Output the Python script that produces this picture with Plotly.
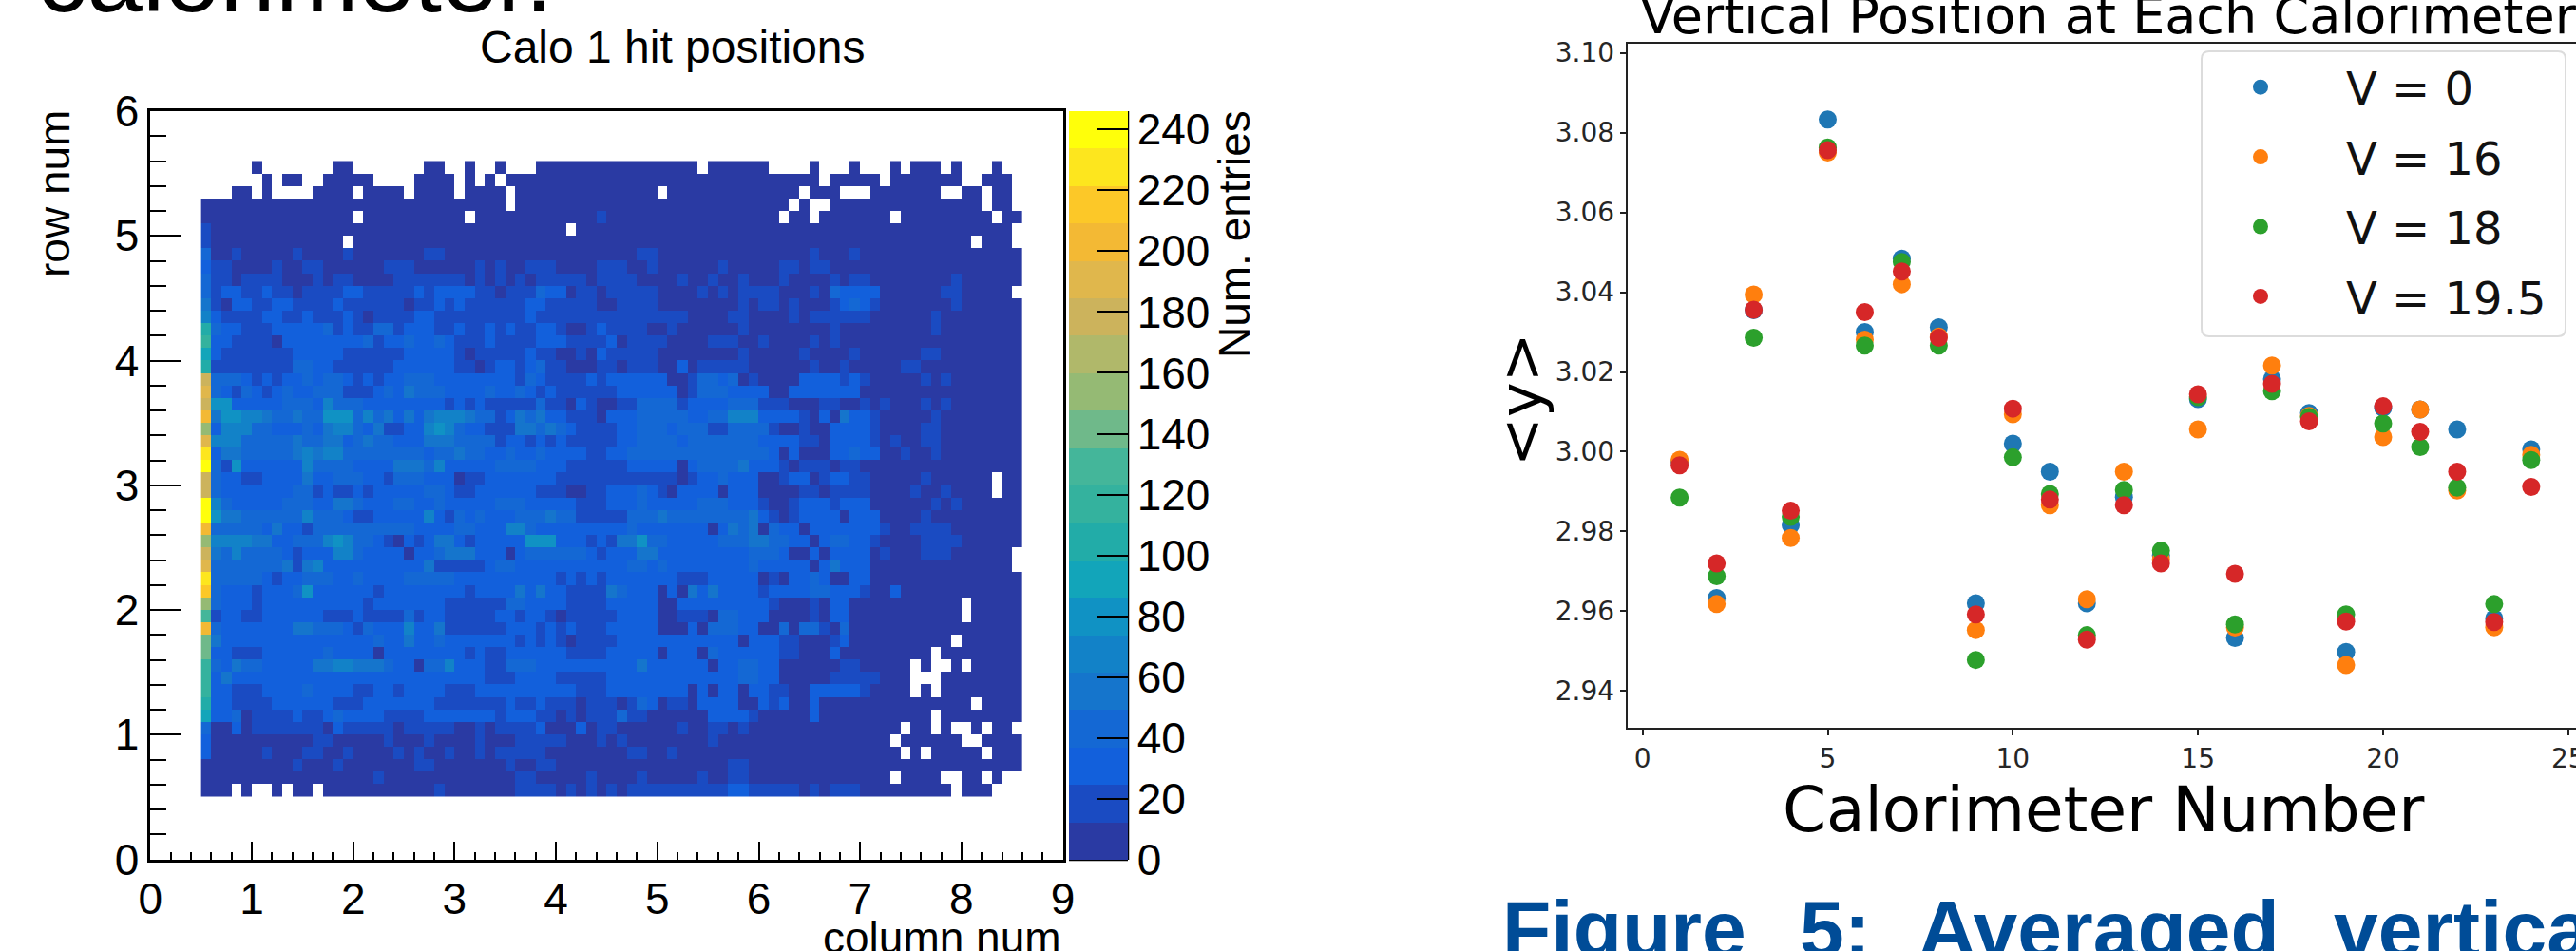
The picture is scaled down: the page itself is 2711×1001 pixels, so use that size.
import plotly.graph_objects as go

W, H = 2711, 1001

# ---------- Calo 1 hit map: bin edges and per-bin colour level (0-19 in base 20, '.' = empty bin) ----------
X_FIRST_EDGE = 0.5
Y_FIRST_EDGE = 0.5
BIN_WIDTH = 0.1
ENTRIES_MAX = 246
N_LEVELS = 20

# rows listed from the top (row 50) down to the bottom (row 0); 81 columns, in groups of ten
HEAT_ROWS = [
 ".....0.... ...00..... ..00..0..0 ...0000000 000000000. 000000.... 0...0...0. 000.0...0. .",
 "......0.00 ..00000... .0000.0.0. 0000000000 0000000000 0000000000 0.00000.00 00000..000 .",
 "...00.0... .0000.0000 .0000.0000 .000000000 00000.0000 000000000. 000...0000 000..00.00 .",
 "0000000000 0000000000 0000000000 .000000000 0000000000 00000000.0 ..00000000 0000000.00 .",
 "0000000000 00000.0000 000000.000 0000000001 0000000000 0000000.00 .0000000.0 00000000.0 0",
 "1000000000 0000000000 0000000000 000000.000 0000000000 0000000000 0000000000 0000000000 .",
 "1000000000 0000.00000 0000000000 0000000000 0000000000 0000000000 0000000000 000000.000 .",
 "3001000001 0000100000 0011000000 0000000000 0001100000 0000000000 1000100000 0000000000 0",
 "2110000100 1100000011 1000000101 0011100001 1100100000 0100000110 1100000000 0000000000 0",
 "3110111100 0101100001 1111110101 0101111101 1110000100 1001000100 0010110000 0000100000 0",
 "3122112110 1111221111 1212222110 1113220110 1111100001 0101111000 1032222000 0001100000 .",
 "4102211221 1112111111 0112121111 1122111110 0111100000 0001011010 0012321000 0000100000 0",
 "5211112211 2111210111 1221111111 1121111111 1111111100 0011000010 1111110000 0010000000 0",
 "8322111222 2231211331 2221121121 2112210012 1111001000 0001000000 0010000000 0010000000 0",
 "9221111022 2222223122 3223211121 1112221111 2011110000 1110010000 1010000000 0000000000 0",
 "7211111112 2222111111 2222210111 1121100102 1111100000 0001000001 0000100000 0110000000 0",
 "8111111113 3221111112 2222211012 2123110001 1011100201 1111000000 1001000001 1000000000 0",
 "e333212122 3233212122 3332222222 2132111121 2222220013 3230100002 2221210000 0101000000 0",
 "f321321232 2333111232 4333222232 2321211111 1222222013 3322220022 2222200000 0000000000 0",
 "e662222233 3253332222 2222121211 1113110210 0113333122 2233311100 0110010100 0101000000 0",
 "g466554334 3366635342 4245554331 2434221110 2223333322 3355522221 0204221000 0010000000 0",
 "c255533222 3245532411 2256532211 1443432111 1223332333 1133331001 0022221000 0110000000 0",
 "f555333334 3344234332 2244433331 2212121111 1223333233 3333322221 1022221010 0110000000 0",
 "i244333334 5455333333 3323343322 3223222211 2233333333 3333332020 0022322001 0010000000 0",
 "j316222222 5333322224 4435222223 3332221111 1122222023 3334222101 1101100000 0000000000 0",
 "e322112222 4223332213 3322201122 2222211111 1111111012 2322200122 0122110000 01000000.0 0",
 "e322222223 3121121222 2233211222 2221110011 2223210222 2022200001 1011110000 10010000.0 0",
 "j532222233 3224432223 3223222223 3322222111 2223222223 3322210012 2212220000 0010100000 0",
 "j644333333 5333211222 2252132322 2333433111 1133343333 3333421012 2220222000 0100000000 0",
 "g333332422 1333333333 3222233222 5532222222 2232222222 0243403220 2222222100 1111000000 0",
 "c555544223 3356533210 2124421222 2266622212 1446332222 2333443322 0233221000 0111100000 0",
 "e435333321 2225532222 0223444222 0233333321 2224422222 2222333200 2022220100 0111000000 .",
 "f333333341 4522222222 2241111123 3222222222 2233232222 2222322222 0242220000 0000000000 .",
 "i333332122 3332232222 3333322222 2222212121 2222222111 2222201022 3200220000 0000000000 0",
 "h322212223 6222222122 2222221222 2424221111 4322202042 4222212222 3322210020 0000000000 0",
 "c322212222 2222221222 2222111111 3322221111 2222200222 2222221000 1022000000 00000.0000 0",
 "a122112222 2211121111 3122111112 2122101111 1222200111 0332220000 1022000000 00000.0000 0",
 "g322222224 4333213222 5224111111 2221212111 2222200020 3332200303 3103000000 0000000000 0",
 "b422222222 2222222322 4223222222 2121210111 1222222222 2220222110 0012000000 0000.00000 0",
 "b221112222 2232222022 2222221211 2222221111 2222202220 3222222110 0020000000 00.0000000 0",
 "9324332222 2445544432 2033522211 3332222222 2224222222 0223322000 0001100000 .0..0.0000 0",
 "9242222222 2222222222 2222222211 1222211111 2222222222 2223322000 0011111000 ...0000000 0",
 "9221112222 3222211221 2222111222 2222222111 2222222202 0220221100 2222210000 .0.0000000 0",
 "8221111222 2221112222 2221111111 2112111011 1013201102 2220021200 2000000000 000000.000 0",
 "7223011112 1123222211 1122222221 2221101011 1311000000 2222100000 2000000000 00.0000000 0",
 "3002011111 1102111110 1111100101 1112000201 1000000100 1101000000 000000000. 00.0..0.00 .",
 "2000000000 0110000010 0010000100 0111110001 0100000000 1000000000 00000000.0 00000..000 0",
 "2000001000 1100100001 0100100101 1111000000 0011001000 0000000000 000000000. 0.00000.00 0",
 "0000000001 0001000000 0110000000 1001100000 0000000000 0011000000 0000000000 0000000000 0",
 "0000000000 0000000100 0000000000 0110000010 0001000001 0011000000 00000000.0 000..00.0. .",
 "000.0..0.0 0.00000000 0001000000 0111101010 1011111111 1122111110 1011100000 0000.000.. .",
]

BAND_COLORS = [
 "#2a3aa3", "#1a4bc2", "#1260dc", "#1468d4", "#1575cc", "#1282c8", "#1092c4",
 "#12a5ba", "#22aca8", "#34b29e", "#44b69a", "#6fb98a", "#95ba74", "#b0b86a",
 "#ccb35c", "#e0b74c", "#f3b934", "#fcc828", "#fde61e", "#ffff0a",
]
HEAT_TICKS = list(range(0, 10))
COLORBAR_TICKS = list(range(0, 241, 20))

# ---------- Vertical position at each calorimeter ----------
CALO = list(range(1, 25))
V_0 = [2.9975, 2.9633, 3.0355, 2.9816, 3.0833, 3.0300, 3.0484, 3.0312, 2.9620, 3.0020, 2.9950, 2.9620,
       2.9886, 2.9740, 3.0132, 2.9533, 3.0182, 3.0097, 2.9498, 3.0110, 3.0106, 3.0056, 2.9582, 3.0006]
V_16 = [2.9980, 2.9618, 3.0394, 2.9784, 3.0750, 3.0281, 3.0420, 3.0289, 2.9553, 3.0094, 2.9866, 2.9630,
        2.9950, 2.9730, 3.0056, 2.9559, 3.0216, 3.0090, 2.9465, 3.0037, 3.0106, 2.9903, 2.9560, 2.9992]
V_18 = [2.9885, 2.9688, 3.0286, 2.9837, 3.0763, 3.0266, 3.0476, 3.0266, 2.9478, 2.9986, 2.9894, 2.9540,
        2.9904, 2.9752, 3.0137, 2.9567, 3.0152, 3.0087, 2.9592, 3.0071, 3.0012, 2.9910, 2.9618, 2.9979]
V_19_5 = [2.9966, 2.9720, 3.0356, 2.9852, 3.0756, 3.0350, 3.0452, 3.0286, 2.9592, 3.0108, 2.9880, 2.9529,
          2.9866, 2.9720, 3.0144, 2.9694, 3.0170, 3.0076, 2.9574, 3.0114, 3.0050, 2.9950, 2.9573, 2.9912]
SERIES = [("V = 0", V_0, "#1f77b4"), ("V = 16", V_16, "#ff7f0e"),
          ("V = 18", V_18, "#2ca02c"), ("V = 19.5", V_19_5, "#d62728")]

# ---------- decode ----------
rows = [r.replace(" ", "") for r in HEAT_ROWS]
assert len(rows) == 51 and all(len(r) == 81 for r in rows), [len(r) for r in rows]
digits = "0123456789abcdefghij"
step = ENTRIES_MAX / N_LEVELS
z = [[None if c == "." else (digits.index(c) + 0.5) * step for c in r] for r in reversed(rows)]
x_centres = [X_FIRST_EDGE + BIN_WIDTH * (i + 0.5) for i in range(81)]
y_centres = [Y_FIRST_EDGE + BIN_WIDTH * (j + 0.5) for j in range(51)]
scale = []
for k, c in enumerate(BAND_COLORS):
    scale += [[k / N_LEVELS, c], [(k + 1) / N_LEVELS, c]]


def px(v):
    return v / W


def py(v):
    return 1 - v / H


ARIAL = "Liberation Sans"
DEJAVU = "DejaVu Sans"

fig = go.Figure()
fig.add_trace(go.Heatmap(
    x=x_centres, y=y_centres, z=z, zmin=0, zmax=ENTRIES_MAX, colorscale=scale,
    xaxis="x", yaxis="y", hoverongaps=False, showlegend=False,
    colorbar=dict(
        x=px(1125), xanchor="left", xpad=0, y=py(117), yanchor="top", ypad=0,
        thickness=62, thicknessmode="pixels", len=788, lenmode="pixels",
        outlinewidth=0, tickmode="array", tickvals=COLORBAR_TICKS,
        ticks="inside", ticklen=33, tickwidth=2, tickcolor="black",
        tickfont=dict(family=ARIAL, size=46, color="black"),
    ),
))
for name, vals, col in SERIES:
    fig.add_trace(go.Scatter(
        x=CALO, y=vals, name=name, mode="markers", xaxis="x2", yaxis="y2",
        legendgroup=name, marker=dict(color=col, size=19),
    ))

root_axis = dict(
    showgrid=False, zeroline=False, showline=True, linecolor="black", linewidth=2.5, mirror=True,
    ticks="inside", tickcolor="black", tickwidth=2,
    tickfont=dict(family=ARIAL, size=46, color="black"),
)
mpl_axis = dict(
    showgrid=False, zeroline=False, showline=True, linecolor="#222", linewidth=2, mirror=True,
    ticks="outside", ticklen=6, tickwidth=1.5, tickcolor="#222", ticklabeloverflow="allow",
    tickfont=dict(family=DEJAVU, size=28, color="#262626"),
)


def note(text, x, y, size, family=ARIAL, xanchor="center", yanchor="middle", angle=0, color="black", bold=False):
    label = f"<b>{text}</b>" if bold else text
    return dict(text=label, x=px(x), y=py(y), xref="paper", yref="paper", xanchor=xanchor, yanchor=yanchor,
                textangle=angle, showarrow=False, borderpad=0,
                font=dict(family=family, size=size, color=color))


BLUE = "#004c97"
annotations = [
    note("calorimeter.", 38, 35, 105, xanchor="left", yanchor="bottom"),
    note("Calo 1 hit positions", 708, 50, 48),
    note("column num", 1118, 987, 46, xanchor="right"),
    note("row num", 57, 204, 46, angle=-90),
    note("Num. entries", 1299, 247, 46, angle=-90),
    note("Vertical Position at Each Calorimeter", 1725, 16, 54, family=DEJAVU, xanchor="left"),
    note("Calorimeter Number", 2214, 852, 66, family=DEJAVU),
    note("&lt;y&gt;", 1600, 421, 62, family=DEJAVU, angle=-90),
    note("Figure", 1580, 978, 84, xanchor="left", color=BLUE, bold=True),
    note("5:", 1893, 978, 84, xanchor="left", color=BLUE, bold=True),
    note("Averaged", 2018, 978, 84, xanchor="left", color=BLUE, bold=True),
    note("vertical", 2455, 978, 84, xanchor="left", color=BLUE, bold=True),
]


def rounded_box(x0, y0, x1, y1, r):
    a, b, c, d = px(x0), py(y0), px(x1), py(y1)
    rx, ry = r / W, r / H
    return (f"M {a + rx} {b} L {c - rx} {b} Q {c} {b} {c} {b - ry} L {c} {d + ry} Q {c} {d} {c - rx} {d} "
            f"L {a + rx} {d} Q {a} {d} {a} {d + ry} L {a} {b - ry} Q {a} {b} {a + rx} {b} Z")


shapes = [
    dict(type="path", path=rounded_box(2317, 54, 2700, 354, 8), xref="paper", yref="paper",
         line=dict(color="#dcdcdc", width=2), fillcolor="white", layer="below"),
    dict(type="line", xref="paper", yref="paper", x0=px(1187), x1=px(1187), y0=py(117), y1=py(905),
         line=dict(color="black", width=2.5)),
    dict(type="line", xref="paper", yref="paper", x0=px(1125), x1=px(1187), y0=py(905), y1=py(905),
         line=dict(color="black", width=2.5)),
]

fig.update_layout(
    width=W, height=H, margin=dict(l=0, r=0, t=0, b=0, autoexpand=False), paper_bgcolor="white", plot_bgcolor="rgba(0,0,0,0)",
    xaxis=dict(root_axis, domain=[px(158.3), px(1118.6)], range=[0, 9], tickmode="array", tickvals=HEAT_TICKS,
               ticklen=19, minor=dict(dtick=0.2, ticks="inside", ticklen=8, tickwidth=2, tickcolor="black"),
               anchor="y"),
    yaxis=dict(root_axis, domain=[py(904.5), py(117)], range=[0, 6], tickmode="array", tickvals=list(range(0, 7)),
               ticklen=33, minor=dict(dtick=0.2, ticks="inside", ticklen=17, tickwidth=2, tickcolor="black"),
               anchor="x"),
    xaxis2=dict(mpl_axis, domain=[px(1712.7), 1], range=[-0.41, 25.21], tickmode="array",
                tickvals=[0, 5, 10, 15, 20, 25], anchor="y2"),
    yaxis2=dict(mpl_axis, domain=[py(766), py(46)], range=[2.9308, 3.1023], tick0=2.94, dtick=0.02,
                tickformat=".2f", anchor="x2"),
    legend=dict(x=px(2289), y=py(54), xanchor="left", yanchor="top", bgcolor="rgba(0,0,0,0)",
                borderwidth=0, font=dict(family=DEJAVU, size=48, color="#111"),
                itemwidth=170, tracegroupgap=8),
    annotations=annotations, shapes=shapes,
    showlegend=True,
)
fig.write_html("out.html", config={"displayModeBar": False},
               post_script="document.body.style.margin='0';document.documentElement.style.overflow='hidden';")
